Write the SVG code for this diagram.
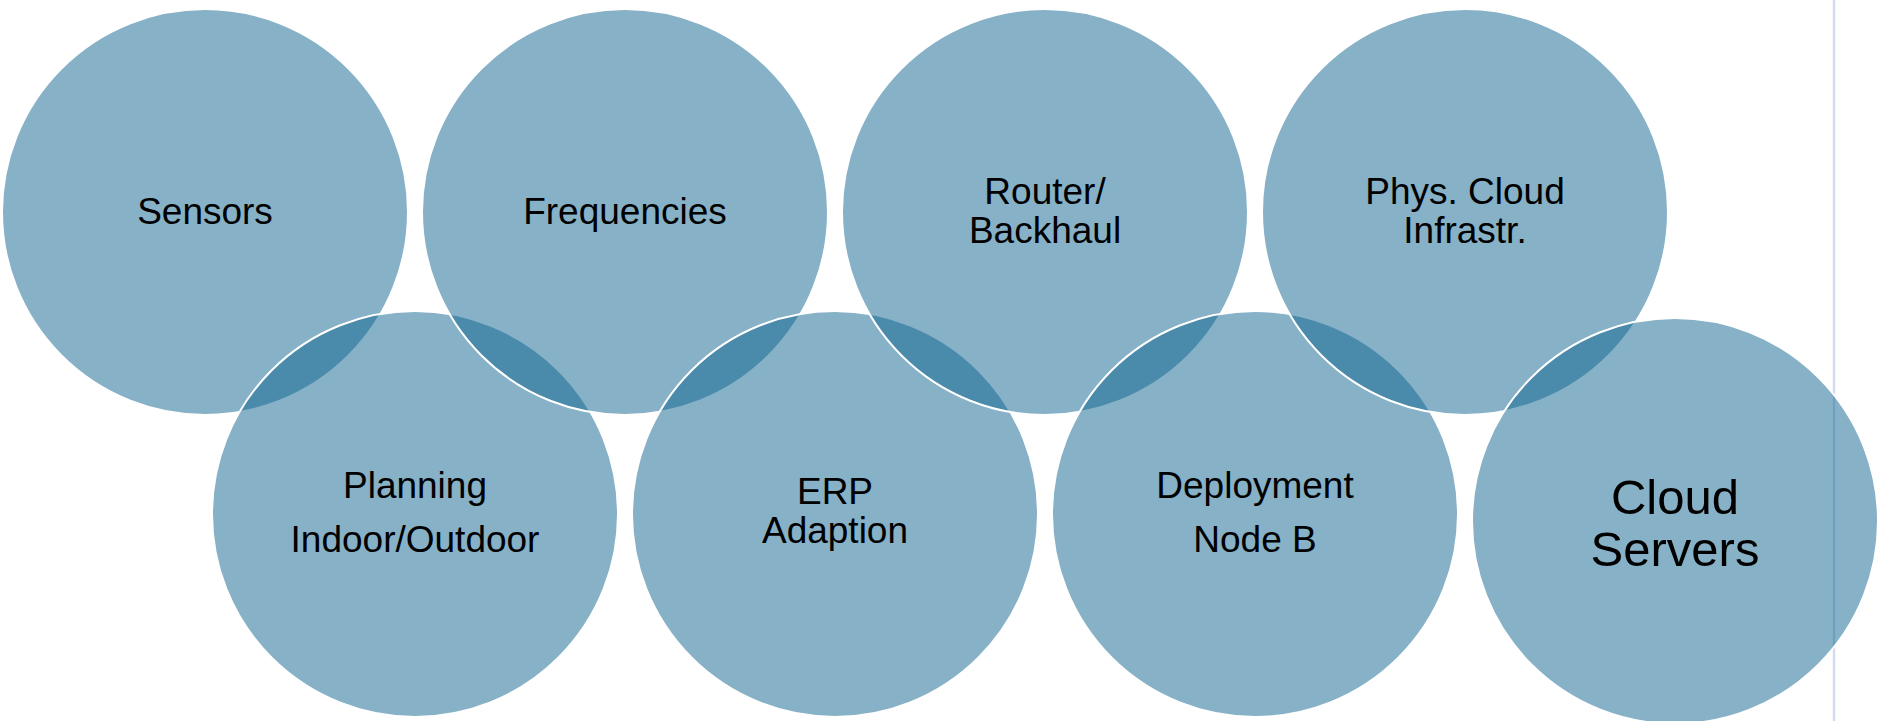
<svg xmlns="http://www.w3.org/2000/svg" width="1880" height="721" viewBox="0 0 1880 721">
  <style>
    .c { fill: rgb(13,99,143); fill-opacity: 0.5; stroke: #ffffff; stroke-width: 2; }
    .t { font-family: "Liberation Sans", Arial, sans-serif; font-size: 37px; fill: #000000; text-anchor: middle; }
    .tl { font-family: "Liberation Sans", Arial, sans-serif; font-size: 49px; fill: #000000; text-anchor: middle; }
  </style>
  <rect x="0" y="0" width="1880" height="721" fill="#ffffff"/>
  <line x1="1834" y1="0" x2="1834" y2="721" stroke="#d0dcee" stroke-width="2.4"/>
  <g id="node-sensors">
    <circle class="c" cx="205" cy="212" r="203"/>
    <text class="t" x="205" y="224">Sensors</text>
  </g>
  <g id="node-planning">
    <circle class="c" cx="415" cy="514" r="203"/>
    <text class="t" x="415" y="498">Planning</text>
    <text class="t" x="415" y="552">Indoor/Outdoor</text>
  </g>
  <g id="node-frequencies">
    <circle class="c" cx="625" cy="212" r="203"/>
    <text class="t" x="625" y="224">Frequencies</text>
  </g>
  <g id="node-erp">
    <circle class="c" cx="835" cy="514" r="203"/>
    <text class="t" x="835" y="504">ERP</text>
    <text class="t" x="835" y="543">Adaption</text>
  </g>
  <g id="node-router">
    <circle class="c" cx="1045" cy="212" r="203"/>
    <text class="t" x="1045" y="204">Router/</text>
    <text class="t" x="1045" y="243">Backhaul</text>
  </g>
  <g id="node-deployment">
    <circle class="c" cx="1255" cy="514" r="203"/>
    <text class="t" x="1255" y="498">Deployment</text>
    <text class="t" x="1255" y="552">Node B</text>
  </g>
  <g id="node-phys-cloud">
    <circle class="c" cx="1465" cy="212" r="203"/>
    <text class="t" x="1465" y="204">Phys. Cloud</text>
    <text class="t" x="1465" y="243">Infrastr.</text>
  </g>
  <g id="node-cloud-servers">
    <circle class="c" cx="1675" cy="521" r="203"/>
    <text class="tl" x="1675" y="514">Cloud</text>
    <text class="tl" x="1675" y="566">Servers</text>
  </g>
  <g id="connectors"></g>
</svg>
